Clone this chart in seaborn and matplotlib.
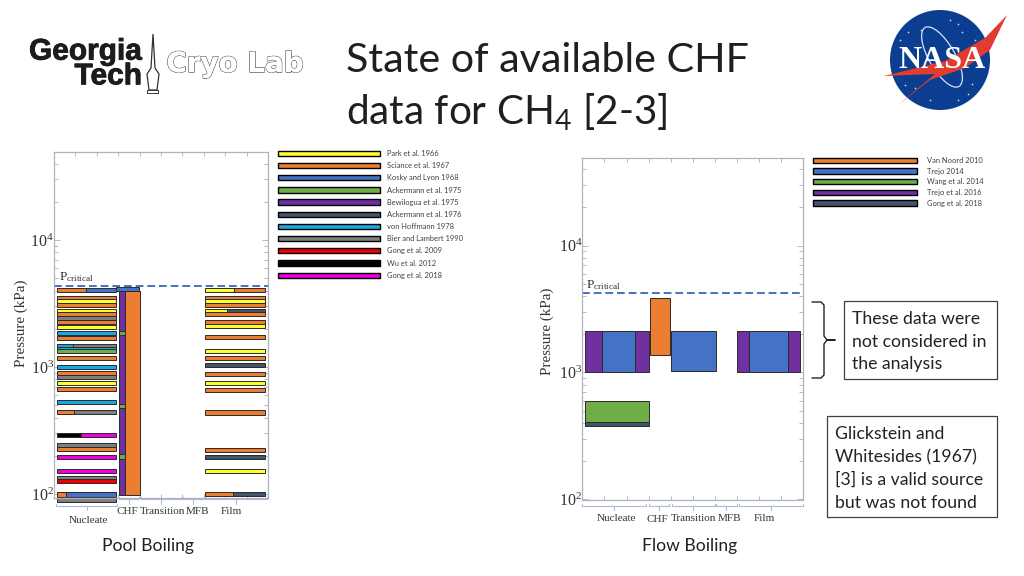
import matplotlib
matplotlib.use("Agg")
import matplotlib.pyplot as plt
import matplotlib.patheffects as pe
from matplotlib.patches import Circle, Ellipse, Patch, Polygon, Rectangle
from matplotlib.ticker import FixedLocator, LogFormatterMathtext, NullFormatter
import numpy as np
import pandas as pd
import seaborn as sns

# Studies and their colours
pool_studies = ["Park et al. 1966", "Sciance et al. 1967", "Kosky and Lyon 1968",
                "Ackermann et al. 1975", "Bewilogua et al. 1975", "Ackermann et al. 1976",
                "von Hoffmann 1978", "Bier and Lambert 1990", "Gong et al. 2009",
                "Wu et al. 2012", "Gong et al. 2018"]
pool_colors = ["#FFFF2E", "#ED7D31", "#4472C4", "#70AD47", "#7030A0", "#44546A",
               "#1AA7DE", "#7F7F7F", "#F00000", "#000000", "#F000E0"]
flow_studies = ["Van Noord 2010", "Trejo 2014", "Wang et al. 2014", "Trejo et al. 2016",
                "Gong et al. 2018"]
flow_colors = ["#ED7D31", "#4472C4", "#70AD47", "#7030A0", "#44546A"]

# Pool boiling, nucleate regime: pressure (kPa), study codes, share of the first study
nucleate_pressure = [4040, 3514, 3311, 3078, 2761, 2628, 2432, 2262, 2065, 1853, 1701,
                     1472, 1386, 1336, 1184, 1000, 902, 839, 748, 671, 530, 442, 292,
                     243, 226, 196, 152, 134, 127, 99, 90]
nucleate_first = [1, 1, 0, 1, 0, 1, 7, 1, 0, 6, 1, 6, 6, 3, 1, 6, 1, 7, 0, 1, 6, 1, 9,
                  7, 1, 10, 10, 7, 8, 1, 7]
nucleate_second = [2, 1, 0, 1, 0, 1, 7, 1, 0, 6, 1, 7, 6, 3, 1, 6, 1, 7, 0, 1, 6, 7, 10,
                   7, 1, 10, 10, 7, 8, 2, 7]
nucleate_share = [0.49, 1, 1, 1, 1, 1, 1, 1, 1, 1, 1, 0.28, 1, 1, 1, 1, 1, 1, 1, 1, 1,
                  0.3, 0.42, 1, 1, 1, 1, 1, 1, 0.16, 1]

# Pool boiling, film regime
film_pressure = [4040, 3490, 3311, 3078, 2761, 2600, 2270, 2104, 1733, 1336, 1178, 1037,
                 885, 752, 659, 437, 223, 196, 152, 100]
film_first = [0, 1, 0, 1, 0, 1, 1, 0, 1, 0, 1, 5, 1, 0, 1, 1, 1, 5, 0, 1]
film_second = [1, 1, 0, 1, 5, 1, 1, 0, 1, 0, 1, 5, 1, 0, 1, 1, 1, 5, 0, 5]
film_share = [0.49, 1, 1, 1, 0.36, 1, 1, 1, 1, 1, 1, 1, 1, 1, 1, 1, 1, 1, 1, 0.47]

# Pool boiling, CHF regime
chf_study = [4, 1, 2, 3, 3, 3]
chf_low = [99, 99, 3970, 1800, 475, 190]
chf_high = [4300, 3990, 4300, 1930, 510, 205]
chf_start = [65, 71, 62, 65.5, 65.5, 65.5]
chf_end = [71, 86, 85, 71, 71, 71]

# Flow boiling rectangles
flow_study = [3, 1, 2, 4, 0, 1, 3, 1]
flow_low = [1000, 1000, 405, 381, 1374, 1033, 1000, 1000]
flow_high = [2110, 2110, 593, 405, 3880, 2110, 2110, 2110]
flow_start = [2.7, 19.4, 2.7, 2.7, 68, 88.7, 154.4, 166.4]
flow_end = [66.7, 52.4, 66.7, 66.7, 88, 133.4, 217.7, 206]

regimes = ["Nucleate", "CHF", "Transition", "MFB", "Film"]
pool_edges = [(1.7, 63.3), (65, 85), (87, 127.7), (128.7, 150), (151, 213)]
flow_edges = [(0, 63.7), (66.4, 87), (89.4, 132.7), (133.4, 154.4), (156.7, 221)]
pool_label_x = [34, 73, 108, 143, 177]
flow_label_x = [34.4, 75, 111, 147, 182]
pool_critical = 4340
flow_critical = 4250

# NASA logo star field
star_x = [900, 908, 915, 921, 950, 958, 962, 968, 972, 905, 930, 975, 958]
star_y = [40, 32, 88, 30, 20, 24, 32, 94, 84, 85, 100, 40, 100]


def add_floating(ax, color, x0, x1, low, high):
    # one study range, spanning low to high pressure
    ax.bar(x0, high - low, x1 - x0, bottom=low, align="edge", color=color,
           edgecolor="#2a2a2a", linewidth=0.7, clip_on=False)


def add_rows(ax, x0, x1, pressure, first, second, share):
    # horizontal strips, some of them shared by two studies
    for p, a, b, s in zip(pressure, first, second, share):
        low, high = p / 1.04, p * 1.04
        xm = x0 + (x1 - x0) * s
        add_floating(ax, pool_colors[a], x0, xm, low, high)
        if s < 1:
            add_floating(ax, pool_colors[b], xm, x1, low, high)


def style_axis(ax, xmax, ylim, edges, label_x, critical, ylabel_xy, bracket_y, label_y, crit_xy):
    crit = pd.DataFrame({"x": [0, xmax], "p": [critical, critical]})
    sns.lineplot(data=crit, x="x", y="p", ax=ax, color="#4472C4", linewidth=1.4,
                 linestyle=(0, (4, 2)), legend=False, errorbar=None)
    ax.set_yscale("log")
    ax.set_xlim(0, xmax)
    ax.set_ylim(*ylim)
    ax.yaxis.set_major_locator(FixedLocator([100, 1000, 10000]))
    ax.yaxis.set_major_formatter(LogFormatterMathtext())
    ax.yaxis.set_minor_locator(FixedLocator([m * d for d in (100, 1000, 10000)
                                             for m in range(2, 10)]))
    ax.yaxis.set_minor_formatter(NullFormatter())
    ax.tick_params(axis="y", which="both", direction="in", left=True, right=True,
                   color="#b5b8c0", width=0.7, length=3)
    ax.tick_params(axis="y", which="major", labelsize=11.5, labelcolor="#333333", pad=0,
                   length=4, labelfontfamily="Liberation Serif")
    ax.set_xticks(np.linspace(0, xmax, 11)[1:-1])
    ax.set_xticklabels([])
    ax.tick_params(axis="x", direction="in", top=True, bottom=True, color="#b5b8c0",
                   width=0.7, length=3)
    for spine in ax.spines.values():
        spine.set_color("#b0b3ba")
        spine.set_linewidth(0.9)
    ax.grid(False)
    ax.set_xlabel("")
    ax.set_ylabel("Pressure (kPa)", fontsize=10.8, color="#333333",
                  family="Liberation Serif")
    ax.yaxis.set_label_coords(*ylabel_xy)
    ax.text(*crit_xy, r"P$_{\mathrm{critical}}$", transform=ax.transData, fontsize=9.5,
            color="#333333", family="Liberation Serif", va="center")

    # regime brackets below the frame
    trans = ax.get_xaxis_transform()
    for name, (x0, x1), lx, ly, by in zip(regimes, edges, label_x, label_y, bracket_y):
        ax.plot([x0, x0, x1, x1], [by + 0.006, by, by, by + 0.006], transform=trans,
                color="#a9bbdd", lw=0.8, clip_on=False)
        ax.plot([(x0 + x1) / 2] * 2, [by, by - 0.012], transform=trans,
                color="#a9bbdd", lw=0.8, clip_on=False)
        ax.text(lx, ly, name, transform=trans, ha="center", va="center",
                fontsize=8, color="#333333", family="Liberation Serif")


sns.set_theme(style="white", rc={"mathtext.fontset": "custom",
                                 "mathtext.rm": "Liberation Serif",
                                 "mathtext.it": "Liberation Serif",
                                 "mathtext.bf": "Liberation Serif",
                                 "mathtext.default": "regular"})
plt.rcParams["font.family"] = ["Lato", "DejaVu Sans"]

W, H = 1024, 576
fig = plt.figure(figsize=(W / 100, H / 100), dpi=100, facecolor="white")

# page layer in slide pixels, for logos and call-outs
page = fig.add_axes([0, 0, 1, 1], zorder=0)
page.set_xlim(0, W)
page.set_ylim(H, 0)
page.axis("off")

ax_pool = fig.add_axes([54 / W, 1 - 498 / H, 214 / W, 346 / H], zorder=1)
ax_flow = fig.add_axes([582.3 / W, 1 - 500 / H, 221 / W, 342 / H], zorder=1)
ax_pool.patch.set_alpha(0)
ax_flow.patch.set_alpha(0)

add_rows(ax_pool, 2.5, 62, nucleate_pressure, nucleate_first, nucleate_second, nucleate_share)
add_rows(ax_pool, 151, 211, film_pressure, film_first, film_second, film_share)
for s, lo, hi, x0, x1 in zip(chf_study, chf_low, chf_high, chf_start, chf_end):
    add_floating(ax_pool, pool_colors[s], x0, x1, lo, hi)
for s, lo, hi, x0, x1 in zip(flow_study, flow_low, flow_high, flow_start, flow_end):
    add_floating(ax_flow, flow_colors[s], x0, x1, lo, hi)

style_axis(ax_pool, 214, (93, 49300), pool_edges, pool_label_x, pool_critical, (-0.12, 0.506),
           [-0.023, -0.004, -0.004, -0.004, -0.004],
           [-0.064, -0.038, -0.038, -0.038, -0.038], (5, 5100))
style_axis(ax_flow, 221, (99, 48900), flow_edges, flow_label_x, flow_critical, (-0.13, 0.494),
           [-0.0175] * 5,
           [-0.055, -0.058, -0.055, -0.055, -0.055], (4, 4900))

pool_handles = [Patch(facecolor=c, edgecolor="black", linewidth=1) for c in pool_colors]
flow_handles = [Patch(facecolor=c, edgecolor="black", linewidth=1) for c in flow_colors]
fig.legend(pool_handles, pool_studies, loc="upper left", bbox_to_anchor=(278 / W, 1 - 150 / H),
           frameon=False, fontsize=5.4, handlelength=13.6, handleheight=0.7, handletextpad=0.95,
           labelspacing=0.69, borderpad=0, borderaxespad=0, labelcolor="#404040")
fig.legend(flow_handles, flow_studies, loc="upper left", bbox_to_anchor=(812.7 / W, 1 - 157 / H),
           frameon=False, fontsize=5.4, handlelength=13.9, handleheight=0.7, handletextpad=1.3,
           labelspacing=0.49, borderpad=0, borderaxespad=0, labelcolor="#404040")

# title and captions
page.text(346, 60, "State of available CHF", fontsize=29.7, color="#1f1f1f", va="center")
page.text(346, 112, "data for CH$_4$ [2-3]", fontsize=29.2, color="#1f1f1f", va="center")
page.text(147.5, 546, "Pool Boiling", fontsize=12.6, color="#222222", ha="center", va="center")
page.text(690, 546, "Flow Boiling", fontsize=12.6, color="#222222", ha="center", va="center")

# call-outs
page.add_patch(Rectangle((844, 301), 153, 78, fc="white", ec="#404040", lw=0.9))
page.text(852, 342, "These data were\nnot considered in\nthe analysis", fontsize=12.7,
          color="#222222", va="center", linespacing=1.5)
page.add_patch(Rectangle((827, 416), 170, 101, fc="white", ec="#404040", lw=0.9))
page.text(835, 468.5, "Glickstein and\nWhitesides (1967)\n[3] is a valid source\nbut was not found",
          fontsize=12.7, color="#222222", va="center", linespacing=1.5)
page.plot([812, 821, 824, 824, 827, 835, 827, 824, 824, 821, 812],
          [302, 302, 305, 336, 340, 340, 340, 344, 375, 378, 378], color="#222222", lw=1)

# Georgia Tech Cryo Lab logo
page.text(142, 64, "Georgia\nTech", fontsize=21.5, fontweight="bold", family="Liberation Sans",
          color="#1c1c1c", ha="right", va="center", multialignment="right", linespacing=0.85,
          path_effects=[pe.withStroke(linewidth=0.6, foreground="#1c1c1c")])
page.add_patch(Polygon([(153, 34), (151, 68), (147, 74), (149, 90), (157, 90), (159, 74), (155, 68)],
                       fc="white", ec="#333333", lw=0.9))
page.add_patch(Rectangle((147, 90), 11, 3, fc="white", ec="#333333", lw=0.7))
page.text(235, 64, "Cryo Lab", fontsize=20, fontweight="bold", family="DejaVu Sans", color="white",
          ha="center", va="center", path_effects=[pe.withStroke(linewidth=1.0, foreground="#555555"),
                                                  pe.Normal()])

# NASA meatball
page.add_patch(Circle((940, 60), 50, fc="#0B3D91", ec="none"))
page.scatter(star_x, star_y, s=1.5, color="#cfdcf2", linewidths=0)
page.add_patch(Ellipse((942, 57), 26, 68, angle=-30, fc="none", ec="#d8e2f2", lw=0.9))
page.add_patch(Polygon([(884, 76), (945, 61), (985, 38), (1007, 15), (990, 50), (965, 68), (930, 80),
                        (898, 105), (935, 74)], fc="#E03C31", ec="none", zorder=3))
page.text(942, 60, "NASA", fontsize=23, fontweight="bold", family="Liberation Serif", color="white",
          ha="center", va="center", zorder=4)

fig.savefig("out.png", dpi=100)
